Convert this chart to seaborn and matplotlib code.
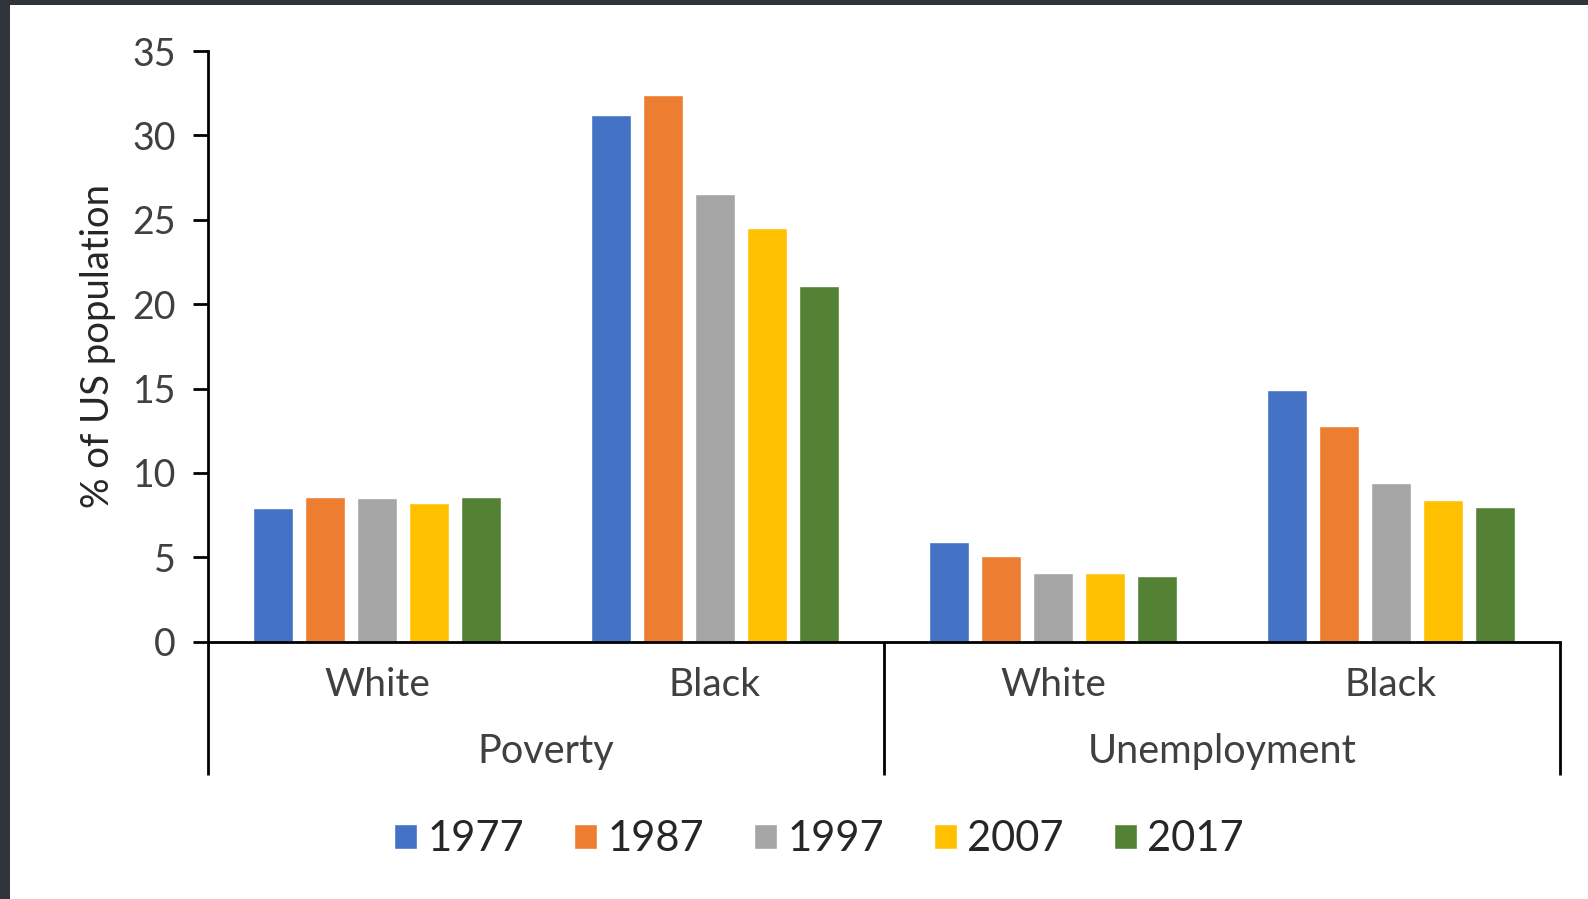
import matplotlib
matplotlib.use("Agg")
import matplotlib.pyplot as plt
import matplotlib.transforms as mtransforms
from matplotlib.patches import Rectangle
import seaborn as sns
import pandas as pd

# ---- data ----
groups = ["Poverty", "Unemployment"]
races = ["White", "Black"]
years = ["1977", "1987", "1997", "2007", "2017"]
poverty_white = [7.9, 8.6, 8.5, 8.2, 8.6]
poverty_black = [31.2, 32.4, 26.5, 24.5, 21.1]
unemp_white = [5.9, 5.1, 4.1, 4.1, 3.9]
unemp_black = [14.9, 12.8, 9.4, 8.4, 8.0]
colors = ["#4472C4", "#ED7D31", "#A5A5A5", "#FFC000", "#548235"]

series = {
    ("Poverty", "White"): poverty_white,
    ("Poverty", "Black"): poverty_black,
    ("Unemployment", "White"): unemp_white,
    ("Unemployment", "Black"): unemp_black,
}
rows = []
for (g, r), vals in series.items():
    for y, v in zip(years, vals):
        rows.append({"cat": f"{g}|{r}", "year": y, "value": v})
df = pd.DataFrame(rows)
order = [f"{g}|{r}" for g in groups for r in races]

sns.set_theme(style="white")
plt.rcParams["font.family"] = ["Lato", "DejaVu Sans"]

fig = plt.figure(figsize=(15.88, 8.99), dpi=100)
W, H = 1588, 899
ax = fig.add_axes([208 / W, 1 - 641.7 / H, (1560 - 208) / W, (641.7 - 51) / H])

sns.barplot(data=df, x="cat", y="value", hue="year", order=order,
            hue_order=years, palette=colors, width=0.77, gap=0.22,
            saturation=1, ax=ax, legend=True)

ax.set_ylim(0, 35)
ax.set_xlim(-0.5, 3.5)
ax.set_yticks(range(0, 36, 5))
ax.set_xlabel("")
ax.set_ylabel("% of US population", fontsize=27.5, color="#262626", labelpad=12)
ax.set_xticks(range(4))
ax.set_xticklabels([r for g in groups for r in races])

for s in ["top", "right"]:
    ax.spines[s].set_visible(False)
for s in ["left", "bottom"]:
    ax.spines[s].set_color("black")
    ax.spines[s].set_linewidth(2)

ax.tick_params(axis="y", which="both", left=True, length=11, width=2,
               color="black", direction="out", pad=12, labelsize=27,
               labelcolor="#404040")
ax.tick_params(axis="x", bottom=False, pad=12, labelsize=28,
               labelcolor="#404040")

# hierarchical separators
trans = mtransforms.blended_transform_factory(ax.transData, ax.transAxes)
sep_depth = (775 - 641.7) / (641.7 - 51)
for xs in [-0.5, 1.5, 3.5]:
    ax.plot([xs, xs], [0, -sep_depth], transform=trans, color="black",
            lw=2, clip_on=False, solid_capstyle="butt")
label_y = -(752 - 641.7) / (641.7 - 51)
for i, g in enumerate(groups):
    ax.text(2 * i + 0.5, label_y, g, transform=trans, ha="center", va="center",
            fontsize=28.5, color="#404040")

# legend
handles, labels = ax.get_legend_handles_labels()
ax.get_legend().remove()
fig.legend(handles, labels, loc="center", bbox_to_anchor=(819 / W, 1 - 839 / H),
           ncol=5, frameon=False, fontsize=30, handlelength=0.55,
           handleheight=0.55, handletextpad=0.25, columnspacing=1.2,
           labelcolor="#262626")

# dark slide frame at top and left edges
fig.patches.append(Rectangle((0, 1 - 5 / H), 1, 5 / H, transform=fig.transFigure,
                             facecolor="#2f333a", edgecolor="none", zorder=10))
fig.patches.append(Rectangle((0, 0), 10 / W, 1, transform=fig.transFigure,
                             facecolor="#2f333a", edgecolor="none", zorder=10))

fig.savefig("out.png", dpi=100)
